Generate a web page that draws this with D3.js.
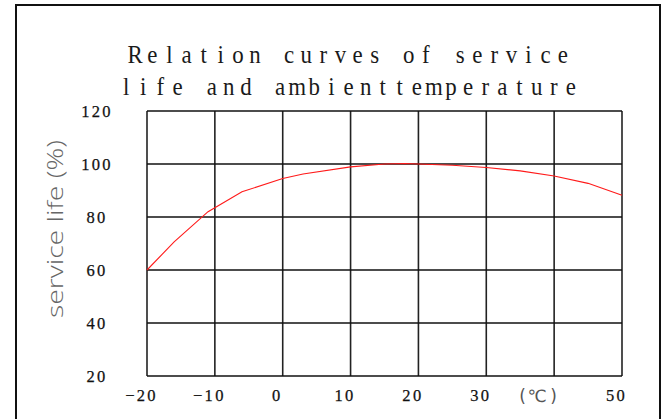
<!DOCTYPE html>
<html>
<head>
<meta charset="utf-8">
<script src="https://cdn.jsdelivr.net/npm/d3@7"></script>
<style>
  body { margin: 0; background: #fff; }
  svg { display: block; }
</style>
</head>
<body>
<script>
const w = 666;
const h = 419;

// data
const temps = [-20, -16, -11, -6, 0, 3, 10, 15, 18, 20, 25, 30, 35, 40, 45, 50];
const life = [60, 70.6, 82, 89.5, 94.5, 96.2, 98.9, 100, 100.2, 100, 99.5, 98.7, 97.4, 95.5, 92.7, 88.2];
const xTicks = [-20, -10, 0, 10, 20, 30, 40, 50];
const xTickLabels = ["\u221220", "\u221210", "0", "10", "20", "30", "(\u2103)", "50"];
const yTicks = [20, 40, 60, 80, 100, 120];
const titleLines = ["Relation curves of service", "life and ambienttemperature"];

const svg = d3.select("body").append("svg")
  .attr("width", w)
  .attr("height", h);

// outer frame
svg.append("rect")
  .attr("x", 16).attr("y", 5)
  .attr("width", 644).attr("height", 430)
  .attr("fill", "none")
  .attr("stroke", "#111")
  .attr("stroke-width", 2);

const xScale = d3.scaleLinear().domain([-20, 50]).range([147, 622]);
const yScale = d3.scaleLinear().domain([20, 120]).range([376, 111]);

// title, one glyph per fixed cell like a narrow monospaced mincho face
const pitch = 17.1;
const squeeze = 0.88;
titleLines.forEach((line, k) => {
  const chars = line.split("");
  const cx = k === 0 ? 349 : 348.5;
  const x0 = cx - (chars.length - 1) / 2 * pitch;
  svg.append("text")
    .attr("transform", `scale(${squeeze},1)`)
    .attr("x", chars.map((c, i) => ((x0 + i * pitch) / squeeze).toFixed(1)).join(" "))
    .attr("y", k === 0 ? 63 : 95)
    .attr("text-anchor", "middle")
    .attr("font-family", "Liberation Serif")
    .attr("font-size", 26)
    .attr("fill", "#1a1a1a")
    .text(line);
});

// grid
const grid = svg.append("g");
grid.selectAll("line.v").data(xTicks).enter().append("line")
  .attr("class", "v")
  .attr("x1", d => xScale(d)).attr("x2", d => xScale(d))
  .attr("y1", yScale(120)).attr("y2", yScale(20))
  .attr("stroke", "#222")
  .attr("stroke-width", 1.6);
grid.selectAll("line.h").data(yTicks).enter().append("line")
  .attr("class", "h")
  .attr("x1", xScale(-20)).attr("x2", xScale(50))
  .attr("y1", d => yScale(d)).attr("y2", d => yScale(d))
  .attr("stroke", "#111")
  .attr("stroke-width", 1.3);

// y tick labels
svg.append("g").selectAll("text").data(yTicks).enter().append("text")
  .attr("x", 97)
  .attr("y", d => yScale(d) + 5.5)
  .attr("text-anchor", "middle")
  .attr("font-family", "Liberation Serif")
  .attr("font-size", 16.5)
  .attr("letter-spacing", 2.3)
  .attr("fill", "#111")
  .attr("stroke", "#111")
  .attr("stroke-width", 0.25)
  .text(d => d);

// x tick labels (the unit sits in the 40 slot)
const xLab = svg.append("g");
xTicks.forEach((d, i) => {
  const label = xTickLabels[i];
  if (i === 6) {
    const offs = [-31.5, -17, -0.5];
    xLab.append("text")
      .attr("x", label.split("").map((c, j) => (xScale(d) + offs[j]).toFixed(1)).join(" "))
      .attr("y", 402)
      .attr("text-anchor", "middle")
      .attr("font-family", "DejaVu Sans")
      .attr("font-size", 17)
      .attr("fill", "#555")
      .text(label);
  } else {
    xLab.append("text")
      .attr("x", xScale(d) - 5.5)
      .attr("y", 401)
      .attr("text-anchor", "middle")
      .attr("font-family", "Liberation Serif")
      .attr("font-size", 16.5)
      .attr("letter-spacing", 2.3)
      .attr("fill", "#111")
      .attr("stroke", "#111")
      .attr("stroke-width", 0.25)
      .text(label);
  }
});

// y axis title
svg.append("text")
  .attr("transform", "translate(63,229) rotate(-90)")
  .attr("text-anchor", "middle")
  .attr("font-family", "Open Sans")
  .attr("font-weight", 300)
  .attr("font-size", 22)
  .attr("textLength", 178)
  .attr("lengthAdjust", "spacingAndGlyphs")
  .attr("fill", "#666")
  .text("service life (%)");

// curve
const line = d3.line()
  .x((d, i) => xScale(temps[i]))
  .y(d => yScale(d));

svg.append("path")
  .datum(life)
  .attr("d", line)
  .attr("fill", "none")
  .attr("stroke", "#ff1a1a")
  .attr("stroke-width", 1.1);
</script>
</body>
</html>
